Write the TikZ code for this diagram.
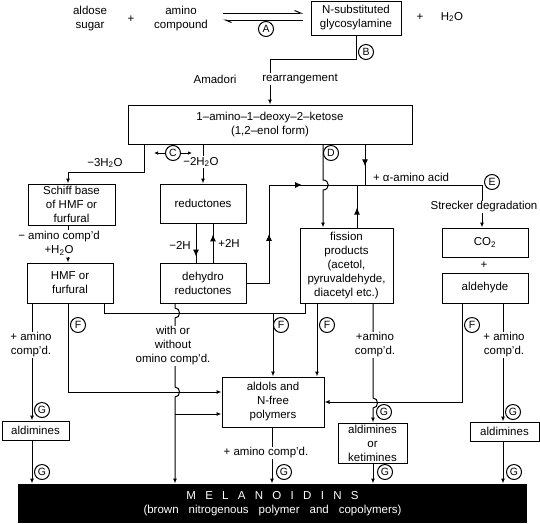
\documentclass[tikz,border=0pt]{standalone}
\usepackage{fontspec}
\setmainfont{Liberation Sans}
\usetikzlibrary{arrows.meta,decorations.markings}
\newcommand\melgap{\hspace{9.3pt}}
\newcommand\wordgap{\hspace{10pt}}
\begin{document}
\begin{tikzpicture}[x=1pt,y=-1pt,line width=1pt,
    every node/.style={font=\fontsize{11.5}{14}\selectfont,inner sep=1pt},
    box/.style={draw,align=center},
    txt/.style={align=center,fill=white},
    circ/.style={circle,draw,inner sep=0pt,minimum size=15pt,font=\fontsize{10.5}{12}\selectfont},
    arr/.style={-{Latex[length=5pt,width=4pt]}},
    arrs/.style={-{Latex[length=4pt,width=3.5pt]}},
    midtip/.style={postaction={decorate,decoration={markings,mark=at position #1 with {\arrow{Latex[length=7pt,width=6pt]}}}}},
    harp/.style={-{Straight Barb[harpoon,length=6pt,width=5pt]}}]
                \useasboundingbox (0,0) rectangle (540,523);
                \node (sugar) [align=center] at (90,19) {aldose\\sugar};
                \node (plusA) at (131,19) {+};
                \node (amino) [align=center] at (181,19) {amino\\compound};
                \node (gly) [box,minimum width=90pt,minimum height=34pt] at (356,18) {N-substituted\\glycosylamine};
                \node (plusB) at (420,17) {+};
                \node (water) at (452,17) {H\textsubscript{2}O};
                \coordinate (eqW) at (223,16.5);
                \coordinate (eqE) at (303,16.5);
                \draw[harp] ([yshift=3.5pt]eqW) -- ([yshift=3.5pt]eqE);
                \draw[harp] ([yshift=-3.5pt]eqE) -- ([yshift=-3.5pt]eqW);
                \node (cA) [circ] at (266,29) {A};
                \node (ketose) [box,minimum width=284pt,minimum height=39pt] at (270,124.5) {1–amino–1–deoxy–2–ketose\\(1,2–enol form)};
                \draw[arr] (gly.south) -- ++(0,24) -| (ketose.north);
                \node (cB) [circ] at (366,52) {B};
                \node (amadori) at (215,79) {Amadori};
                \node (rearr) [txt] at (300,79) {rearrangement};
                \node (schiff) [box,minimum width=87pt,minimum height=41pt] at (71.5,204.5) {Schiff base\\of HMF or\\furfural};
                \node (hmf) [box,minimum width=86pt,minimum height=40pt] at (70,283) {HMF or\\furfural};
                \node (red) [box,minimum width=86pt,minimum height=39pt] at (203,203.5) {reductones};
                \node (dehy) [box,minimum width=86pt,minimum height=40pt] at (203,283) {dehydro\\reductones};
                \node (fiss) [box,minimum width=93pt,minimum height=75pt] at (346.5,265.5) {fission\\products\\(acetol,\\pyruvaldehyde,\\diacetyl etc.)};
                \node (co2) [box,minimum width=86pt,minimum height=29pt] at (485,242.5) {CO\textsubscript{2}};
                \node (plusC) at (484,265) {+};
                \node (ald) [box,minimum width=86pt,minimum height=30pt] at (485,288) {aldehyde};
                \node (aldols) [box,minimum width=102pt,minimum height=50pt] at (273,402) {aldols and\\N-free\\polymers};
                \node (aok) [box,minimum width=69pt,minimum height=40pt] at (372.5,443) {aldimines\\or\\ketimines};
                \node (aldR) [box,minimum width=69pt,minimum height=19pt] at (504.5,431.5) {aldimines};
                \node (aldL) [box,minimum width=67pt,minimum height=19pt] at (35.5,430.5) {aldimines};
                \node (mel) [fill=black,text=white,align=center,minimum width=509pt,minimum height=39pt] at (272.5,503.5)
                    {M\melgap E\melgap L\melgap A\melgap N\melgap O\melgap I\melgap D\melgap I\melgap N\melgap S\\(brown\wordgap nitrogenous\wordgap polymer\wordgap and\wordgap copolymers)};
                \draw[arr] (ketose.south -| 144,0) -- ++(0,28) -| (schiff.north -| 68,0);
                \draw[arr] (ketose.south -| 203,0) -- (red.north);
                \node (cC) [circ] at (173,153) {C};
                \draw[arrs] (cC.west) -- ++(-11,0);
                \draw[arrs] (cC.east) -- ++(11,0);
                \draw[arr] (schiff.south -| 68,0) -- (hmf.north -| 68,0);
                \draw[midtip=0.85] (red.south -| 196,0) -- (dehy.north -| 196,0);
                \draw[midtip=0.72] (dehy.north -| 213,0) -- (red.south -| 213,0);
                \coordinate (jA) at (269,185);
                \coordinate (jE) at (482,185);
                \draw[midtip=0.595] (dehy.east) -| (jA);
                \draw[midtip=0.155] (jA) -- (jE);
                \draw[arr] (jE) -- (co2.north -| jE);
                \draw[midtip=0.54] (ketose.south -| 365,0) -- (jA -| 365,0);
                \draw[midtip=0.47] (fiss.north -| 357,0) -- (jA -| 357,0);
                \draw[arr] (ketose.south -| 323,0) -- (323,180) .. controls (330,180) and (330,190) .. (323,190) -- (fiss.north -| 323,0);
                \node (cD) [circ] at (331,153) {D};
                \node (cE) [circ] at (492,182) {E};
                \draw[arr] (hmf.south -| 32,0) -- (aldL.north -| 32,0);
                \draw[arr] (aldL.south -| 32,0) -- (mel.north -| 32,0);
                \draw[arr] (hmf.south -| 68,0) |- ([yshift=10pt]aldols.west);
                \draw (hmf.south -| 104,0) |- (305,313) -- (fiss.south -| 305,0);
                \draw[arr] (aldols.north |- 0,313) -- (aldols.north);
                \draw[arr] (fiss.south -| 317,0) -- (aldols.north -| 317,0);
                \draw[arr] (dehy.south -| 175,0) -- (175,308) .. controls (181,308) and (181,318) .. (175,318)
                    -- (175,387) .. controls (181,387) and (181,397) .. (175,397) -- (mel.north -| 175,0);
                \draw[arr] (175,414) -- ([yshift=-12pt]aldols.west);
                \draw[arr] (ald.south -| 462,0) |- (aldols.east);
                \draw[arr] (fiss.south -| 373,0) -- (373,398) .. controls (379,398) and (379,408) .. (373,408) -- (aok.north -| 373,0);
                \draw[arr] (aok.south -| 373,0) -- (mel.north -| 373,0);
                \draw[arr] (ald.south -| 503,0) -- (aldR.north -| 503,0);
                \draw[arr] (aldR.south -| 503,0) -- (mel.north -| 503,0);
                \draw[arr] (aldols.south -| 272,0) -- (mel.north -| 272,0);
                \node (lossA) at (105,163) {−3H\textsubscript{2}O};
                \node (lossB) [txt] at (201,162) {−2H\textsubscript{2}O};
                \node (minusH) at (180,245) {−2H};
                \node (plusH) at (229,243) {+2H};
                \node (lossC) [txt] at (59,243.5) {− amino comp'd\\+H\textsubscript{2}O};
                \node (aminoA) [txt] at (31,345) {+ amino\\comp'd.};
                \node (withor) [txt] at (173,346) {with or\\without\\omino comp'd.};
                \node (aminoB) [txt] at (375,345) {+amino\\comp'd.};
                \node (aminoC) [txt] at (504,345) {+ amino\\comp'd.};
                \node (aminoD) [txt] at (266,453) {+ amino comp'd.};
                \node (strecker) [txt] at (484,207) {Strecker degradation};
                \node (alpha) at (411,177) {+ α-amino acid};
                \node (cF1) [circ] at (78,325) {F};
                \node (cF2) [circ] at (281,325) {F};
                \node (cF3) [circ] at (327,325) {F};
                \node (cF4) [circ] at (472,325) {F};
                \node (cG1) [circ] at (42,410) {G};
                \node (cG2) [circ] at (42,472) {G};
                \node (cG3) [circ] at (284,472) {G};
                \node (cG4) [circ] at (384,412) {G};
                \node (cG5) [circ] at (385,472) {G};
                \node (cG6) [circ] at (513,412) {G};
                \node (cG7) [circ] at (514,472) {G};
            \end{tikzpicture}
\end{document}
